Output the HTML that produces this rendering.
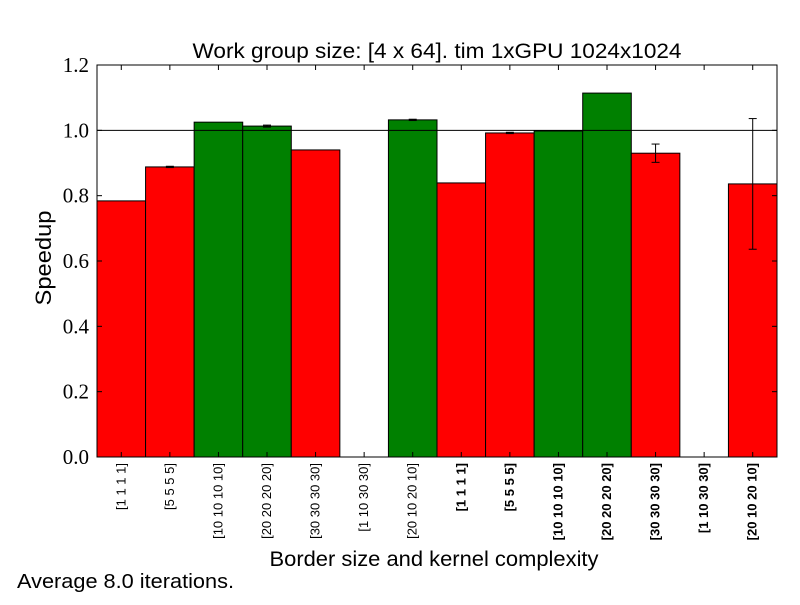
<!DOCTYPE html>
<html><head><meta charset="utf-8"><style>
body{margin:0;background:#fff;}
svg text{font-family:"Liberation Sans",sans-serif;}
</style></head><body>
<svg id="chart" width="800" height="600" xmlns="http://www.w3.org/2000/svg">
<rect width="800" height="600" fill="#fff"/>
<text x="437" y="58" font-size="21" text-anchor="middle" textLength="489" lengthAdjust="spacingAndGlyphs">Work group size: [4 x 64]. tim 1xGPU 1024x1024</text>
<text transform="translate(51,258) rotate(-90)" font-size="22" text-anchor="middle" textLength="95" lengthAdjust="spacingAndGlyphs">Speedup</text>
<text x="434" y="566" font-size="21" text-anchor="middle" textLength="329" lengthAdjust="spacingAndGlyphs">Border size and kernel complexity</text>
<text x="17" y="588" font-size="20" textLength="217" lengthAdjust="spacingAndGlyphs">Average 8.0 iterations.</text>
<g id="bars"></g>
<g id="axes"></g>
</svg>
<script>
const categories = ["[1 1 1 1]","[5 5 5 5]","[10 10 10 10]","[20 20 20 20]","[30 30 30 30]","[1 10 30 30]","[20 10 20 10]","[1 1 1 1]","[5 5 5 5]","[10 10 10 10]","[20 20 20 20]","[30 30 30 30]","[1 10 30 30]","[20 10 20 10]"];
const boldLabels = [false,false,false,false,false,false,false,true,true,true,true,true,true,true];
const speedups = [0.784,0.888,1.025,1.013,0.94,0,1.032,0.839,0.992,0.998,1.114,0.93,0,0.836];
const errors = [0,0.002,0,0.003,0,0,0.002,0,0.002,0,0,0.028,0,0.2];
const yTicks = [0,0.2,0.4,0.6,0.8,1.0,1.2];
const refLine = 1.0;
const barColors = ["#ff0000","#ff0000","#008000","#008000","#ff0000","#ff0000","#008000","#ff0000","#ff0000","#008000","#008000","#ff0000","#ff0000","#ff0000"];

const NS="http://www.w3.org/2000/svg";
const L=97,R=777,T=65,B=457,yMax=1.2;
const bw=(R-L)/categories.length;
const y=v=>B-(v/yMax)*(B-T);
const xc=i=>L+bw*(i+0.5);
function mk(tag,attrs,parent){const e=document.createElementNS(NS,tag);for(const k in attrs)e.setAttribute(k,attrs[k]);parent.appendChild(e);return e;}
const bars=document.getElementById('bars'),axes=document.getElementById('axes');
speedups.forEach((v,i)=>{
  const r=mk('rect',{x:L+bw*i,y:y(v),width:bw,height:B-y(v),fill:barColors[i],stroke:'#000','stroke-width':1},bars);
  
  
  if(errors[i]>0){
    const g=mk('g',{stroke:'#000','stroke-width':1},bars);
    
    
    const c=xc(i),t=y(v+errors[i]),b=y(v-errors[i]);
    mk('line',{x1:c,x2:c,y1:t,y2:b},g);
    mk('line',{x1:c-4,x2:c+4,y1:t,y2:t},g);
    mk('line',{x1:c-4,x2:c+4,y1:b,y2:b},g);
  }
});
const ref=mk('line',{x1:L,x2:R,y1:y(refLine),y2:y(refLine),stroke:'#000','stroke-width':1},axes);


const frame=mk('rect',{x:L,y:T,width:R-L,height:B-T,fill:'none',stroke:'#000','stroke-width':1},axes);


yTicks.forEach(v=>{
  mk('line',{x1:L,x2:L+5,y1:y(v),y2:y(v),stroke:'#000'},axes);
  mk('line',{x1:R,x2:R-5,y1:y(v),y2:y(v),stroke:'#000'},axes);
  const t=mk('text',{x:L-8,y:y(v)+7,'font-size':21,'text-anchor':'end',style:'font-family:"Liberation Serif",serif'},axes);
  t.textContent=v.toFixed(1);
  
  
});
categories.forEach((c,i)=>{
  mk('line',{x1:xc(i),x2:xc(i),y1:B,y2:B-5,stroke:'#000'},axes);
  mk('line',{x1:xc(i),x2:xc(i),y1:T,y2:T+5,stroke:'#000'},axes);
  const t=mk('text',{transform:`translate(${xc(i)+4},463) rotate(-90)`,'font-size':13,'text-anchor':'end','font-weight':boldLabels[i]?'bold':'normal'},axes);
  t.textContent=c;
  
  
});
</script>
</body></html>
